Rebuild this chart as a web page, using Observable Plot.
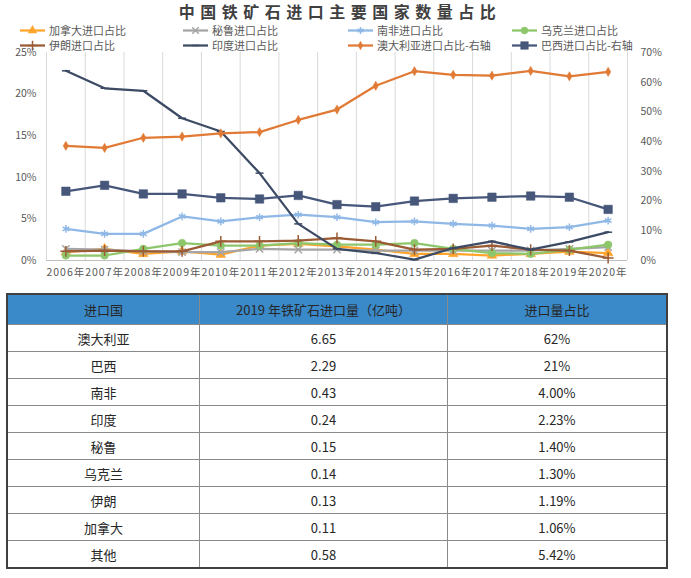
<!DOCTYPE html>
<html><head><meta charset="utf-8">
<script src="https://cdn.jsdelivr.net/npm/d3@7"></script>
<script src="https://cdn.jsdelivr.net/npm/@observablehq/plot@0.6"></script>
<style>
body{margin:0;background:#fff;font-family:"Noto Sans CJK SC","Noto Sans",sans-serif;}
#wrap{position:relative;width:691px;height:578px;overflow:hidden;}
#title{position:absolute;left:0;top:0px;width:680px;text-align:center;font-size:16px;line-height:23.4px;font-weight:700;color:#404040;letter-spacing:5.5px;}
.leg{position:absolute;display:flex;align-items:center;font-size:11px;color:#595959;white-space:nowrap;line-height:13px;height:13px;}
.leg svg{margin-right:3px;}
#chart{position:absolute;left:0;top:46px;}
#chart svg{overflow:visible;}
table{position:absolute;left:6px;top:293px;width:662px;border-collapse:collapse;border:2px solid #404040;font-size:13px;color:#262626;}
th,td{border:1px solid #8a8a8a;text-align:center;padding:0;font-weight:400;}
th{background:#3A89C9;height:29px;color:#262626;}
td{height:26px;}
</style></head>
<body><div id="wrap"><div id="title">中国铁矿石进口主要国家数量占比</div><div id="legend"></div><div id="chart"></div><div id="tbl"></div></div>
<script>
const years = [2006,2007,2008,2009,2010,2011,2012,2013,2014,2015,2016,2017,2018,2019,2020];
const canada      = [1.0,1.4,0.8,1.1,0.7,1.8,2.0,1.7,1.3,0.8,0.8,0.6,0.8,1.06,0.9];
const peru        = [1.4,1.3,1.1,1.0,1.0,1.4,1.3,1.3,1.2,1.2,1.2,1.2,1.2,1.4,1.6];
const southAfrica = [3.8,3.2,3.2,5.3,4.7,5.2,5.5,5.2,4.6,4.7,4.4,4.2,3.8,4.0,4.8];
const ukraine     = [0.6,0.6,1.4,2.1,1.8,1.8,2.1,1.9,1.9,2.1,1.4,0.9,0.8,1.3,1.9];
const iran        = [1.1,1.2,1.1,1.1,2.3,2.3,2.4,2.7,2.3,1.3,1.4,1.8,1.3,1.19,0.3];
const india       = [22.8,20.7,20.4,17.1,15.5,10.5,4.4,1.4,0.9,0.1,1.5,2.3,1.3,2.23,3.4];
const australia   = [38.6,37.9,41.3,41.7,42.8,43.2,47.3,50.8,58.8,63.7,62.5,62.2,63.8,62.0,63.5]; // right axis
const brazil      = [23.3,25.3,22.4,22.4,21.1,20.7,21.9,18.8,18.1,20.0,20.9,21.3,21.7,21.3,17.2]; // right axis
const leftTicks  = [0,5,10,15,20,25];
const rightTicks = [0,10,20,30,40,50,60,70];

const tableCountries = ["澳大利亚","巴西","南非","印度","秘鲁","乌克兰","伊朗","加拿大","其他"];
const tableVolumes   = ["6.65","2.29","0.43","0.24","0.15","0.14","0.13","0.11","0.58"];
const tableShares    = ["62%","21%","4.00%","2.23%","1.40%","1.30%","1.19%","1.06%","5.42%"];
const tableHeader    = ["进口国","2019 年铁矿石进口量（亿吨）","进口量占比"];

const dash = {draw(ctx, size){ const w = Math.sqrt(size)*0.9; ctx.moveTo(-w,0); ctx.lineTo(w,0); }};

const series = [
  {name:"加拿大进口占比", values:canada, color:"#FFA52C", symbol:"triangle", r:3.6, filled:true, lx:20, ly:30.5},
  {name:"秘鲁进口占比", values:peru, color:"#A5A5A5", symbol:"times", r:3.4, filled:false, lx:183, ly:30.5},
  {name:"南非进口占比", values:southAfrica, color:"#8FB8E6", symbol:"asterisk", r:3.6, filled:false, lx:348, ly:30.5},
  {name:"乌克兰进口占比", values:ukraine, color:"#8DC66B", symbol:"circle", r:3.8, filled:true, lx:512, ly:30.5},
  {name:"伊朗进口占比", values:iran, color:"#9A5B35", symbol:"plus", r:3.6, filled:false, lx:20, ly:45},
  {name:"印度进口占比", values:india, color:"#3C4A64", symbol:dash, r:2.5, filled:false, lx:183, ly:45},
  {name:"澳大利亚进口占比-右轴", values:australia, color:"#E07A35", symbol:"diamond", r:2.8, filled:true, right:true, lx:348, ly:45},
  {name:"巴西进口占比-右轴", values:brazil, color:"#46577A", symbol:"square", r:4.8, filled:true, right:true, lx:512, ly:45}
];
const yR = 25/70;

// legend
const legend = d3.select("#legend");
const symMap = {triangle:d3.symbolTriangle,times:d3.symbolTimes,asterisk:d3.symbolAsterisk,circle:d3.symbolCircle,plus:d3.symbolPlus,diamond:d3.symbolDiamond,square:d3.symbolSquare};
series.forEach(s => {
  const item = legend.append("div").attr("class","leg").style("left", s.lx+"px").style("top", (s.ly-6.5)+"px");
  const sv = item.append("svg").attr("width",26).attr("height",13);
  sv.append("line").attr("x1",0).attr("x2",25).attr("y1",6.5).attr("y2",6.5).attr("stroke",s.color).attr("stroke-width",2.25);
  const symType = typeof s.symbol === "string" ? symMap[s.symbol] : s.symbol;
  const p = d3.symbol(symType, Math.PI*s.r*s.r*0.8)();
  sv.append("path").attr("d",p).attr("transform","translate(12.5,6.5)")
    .attr("fill", s.filled ? s.color : "none").attr("stroke", s.color).attr("stroke-width", s.filled ? 0.5 : 1.5);
  item.append("span").text(s.name);
});

// data rows
const rows = series.flatMap(s => years.map((yr,i) => ({series:s.name, year:yr, v: s.right ? s.values[i]*yR : s.values[i]})));
const bounds = [years[0]-0.5, ...years.map(y => y+0.5)];

const marks = [
  Plot.ruleX(bounds, {y1:0, y2:25, stroke:"#d9d9d9", strokeWidth:1}),
  Plot.ruleY([0], {stroke:"#bfbfbf", strokeWidth:1}),
  Plot.axisX(years, {tickSize:0, tickPadding:8, tickFormat:d => d+"年", fontSize:10.5, label:null}),
  Plot.axisY(leftTicks, {anchor:"left", tickSize:0, tickPadding:10, tickFormat:d => d+"%", fontSize:10.5, label:null}),
  Plot.axisY(rightTicks.map(v => v*yR), {anchor:"right", tickSize:0, tickPadding:13, tickFormat:d => Math.round(d/yR)+"%", fontSize:10.5, label:null})
];
series.forEach(s => {
  const d = rows.filter(r => r.series === s.name);
  marks.push(Plot.line(d, {x:"year", y:"v", stroke:s.color, strokeWidth:2.25}));
  marks.push(Plot.dot(d, {x:"year", y:"v", symbol:s.symbol, r:s.r,
    fill: s.filled ? s.color : "none", stroke:s.color, strokeWidth: s.filled ? 0.5 : 1.5}));
});

const chart = Plot.plot({
  width:691, height:240,
  marginTop:6, marginBottom:26, marginLeft:46, marginRight:64,
  x:{domain:[years[0]-0.5, years[years.length-1]+0.5], axis:null},
  y:{domain:[0,25], axis:null},
  style:{color:"#595959", fontFamily:"'Noto Sans CJK SC','Noto Sans',sans-serif", background:"transparent"},
  marks
});
d3.select(chart).selectAll('g[aria-label="x-axis tick label"] text').attr("letter-spacing","1");
document.getElementById("chart").appendChild(chart);

// table
const t = d3.select("#tbl").append("table");
t.append("tr").selectAll("th").data(tableHeader).join("th").text(d => d)
  .style("width",(d,i) => ["193px","249px","220px"][i]);
tableCountries.forEach((c,i) => {
  t.append("tr").selectAll("td").data([c, tableVolumes[i], tableShares[i]]).join("td").text(d => d);
});
</script></body></html>
